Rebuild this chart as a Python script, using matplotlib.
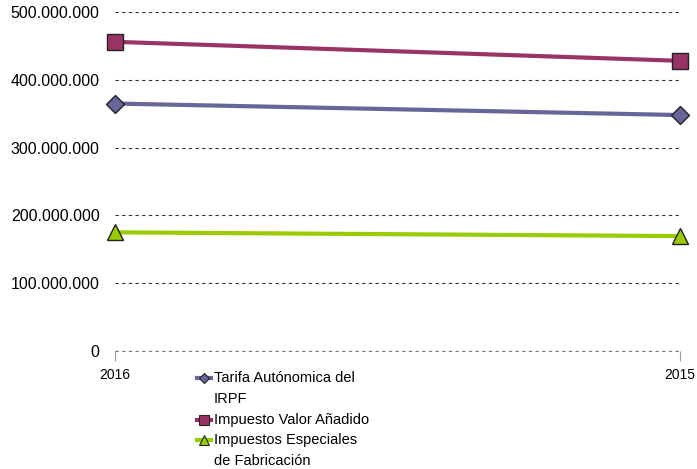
import matplotlib.pyplot as plt
from matplotlib.lines import Line2D
from matplotlib.ticker import FuncFormatter

plt.rcParams['font.family'] = ['Liberation Sans', 'DejaVu Sans']

# data
years = ["2016", "2015"]
irpf = [365000000, 348000000]
iva = [456000000, 428000000]
ief = [175000000, 169500000]

labels = ["Tarifa Autónomica del\nIRPF", "Impuesto Valor Añadido", "Impuestos Especiales\nde Fabricación"]
colors = ["#666699", "#993366", "#99cc00"]
markers = ["D", "s", "^"]

W, H = 697, 469
fig = plt.figure(figsize=(W / 100, H / 100), dpi=100)
ax = fig.add_axes([115 / W, 1 - 351 / H, 565 / W, 339 / H])

x = list(range(len(years)))
msize = {"D": 9, "s": 11, "^": 12}
for vals, lab, col, mk in zip([irpf, iva, ief], labels, colors, markers):
    ax.plot(x, vals, color=col, lw=3, marker=mk, markersize=msize[mk],
            markerfacecolor=col, markeredgecolor="#222222", markeredgewidth=1,
            clip_on=False, zorder=3)

ax.set_xlim(0, 1)
ax.set_ylim(0, 500000000)
ax.set_yticks(range(0, 500000001, 100000000))
ax.yaxis.set_major_formatter(FuncFormatter(lambda v, p: f"{int(v):,}".replace(",", ".")))
ax.set_xticks(x)
ax.set_xticklabels(years)

ax.grid(axis="y", color="#333333", linestyle=(0, (3, 3)), lw=0.8)
ax.axhline(0, color="#777777", linestyle=(0, (3, 3)), lw=0.8, clip_on=False)
for s in ax.spines.values():
    s.set_visible(False)
ax.tick_params(axis="y", length=0, pad=11, labelsize=11.5)
ax.tick_params(axis="x", length=7, color="#999999", pad=5, labelsize=10)

# legend drawn by hand so the key sits on the first text line
row_h = 20.8
y = 378
for lab, col, mk in zip(labels, colors, markers):
    yf = 1 - y / H
    fig.add_artist(Line2D([197 / W, 211 / W], [yf, yf], color=col, lw=3,
                          transform=fig.transFigure))
    fig.add_artist(Line2D([204 / W], [yf], marker=mk, markersize=msize[mk] * 0.6,
                          markerfacecolor=col, markeredgecolor="#222222",
                          markeredgewidth=0.8, transform=fig.transFigure))
    for line in lab.split("\n"):
        fig.text(214 / W, 1 - y / H, line, fontsize=10.5, va="center", ha="left")
        y += row_h

fig.savefig("out.png", dpi=100)
